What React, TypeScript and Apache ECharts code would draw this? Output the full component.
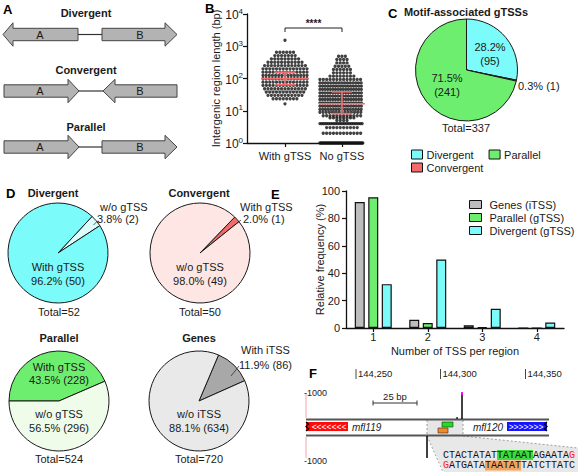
import { useEffect, useRef } from 'react';
import * as echarts from 'echarts';

const SANS = '"Liberation Sans", Arial, Helvetica, sans-serif';
const MONO = '"Liberation Mono", "DejaVu Sans Mono", monospace';

// ---------------- Panel B : intergenic region length (beeswarm rows: [value, count]) ----------------
const bCategories = ['With gTSS', 'No gTSS'];
const withGtssRows: [number, number][] = [
  [1535, 1], [652, 6], [514, 7], [406, 9], [320, 11], [252, 13], [199, 14], [157, 14],
  [124, 15], [98, 15], [77, 14], [61, 14], [48, 13], [38, 12], [30, 11], [23.5, 8], [16.4, 1],
];
const noGtssRows: [number, number][] = [
  [490, 3], [388, 4], [305, 4], [240, 5], [190, 6], [150, 6], [118, 8], [93, 14], [73, 17],
  [58, 18], [46, 18], [36, 18], [28.4, 18], [22.4, 18], [17.6, 18], [13.9, 18], [11, 17],
  [9, 15], [7, 12], [6, 8], [5, 4], [4, 26], [3, 10], [2, 12], [1, 40],
];
const bMedian = [98, 16.5];
const bQ1 = [64, 8.1];
const bQ3 = [157, 38.6];

// ---------------- Panel C : motif-associated gTSSs ----------------
const motifNames = ['Divergent', 'Convergent', 'Parallel'];
const motifCounts = [95, 1, 241];

// ---------------- Panel D : pies ----------------
const divNames = ['w/o gTSS', 'With gTSS'];
const divCounts = [2, 50];
const convNames = ['With gTSS', 'w/o gTSS'];
const convCounts = [1, 49];
const parNames = ['With gTSS', 'w/o gTSS'];
const parCounts = [228, 296];
const geneNames = ['With iTSS', 'w/o iTSS'];
const geneCounts = [86, 634];

// ---------------- Panel E : number of TSS per region ----------------
const tssCategories = ['1', '2', '3', '4'];
const eSeriesNames = ['Genes (iTSS)', 'Parallel (gTSS)', 'Divergent (gTSS)'];
const genesFreq = [92, 6, 2, 0];
const parallelFreq = [95.4, 3.6, 0.6, 0];
const divergentFreq = [32, 50, 14, 4];

// ---------------- Panel F : browser view ----------------
const fCoordLabels = ['144,250', '144,300', '144,350'];
const fScaleLabel = '25 bp';
const fDepthLabel = '-1000';
const fGeneLeft = 'mfl119';
const fGeneRight = 'mfl120';
const seqTop = 'CTACTATATTATAATAGAATAG';
const seqBottom = 'GATGATATAATATTATCTTATC';

// colours
const CYAN = '#7cfbfb';
const GREEN = '#6eee6e';
const RED = '#f26b6b';
const GRAY = '#bdbdbd';

// layout constants for panel B
const B_LEFT = 247, B_TOP = 14, B_W = 116, B_H = 129;
const B_XMIN = 0.333, B_XMAX = 2.37;
const B_PX_PER_UNIT = B_W / (B_XMAX - B_XMIN);
const B_MAXW = [44, 44];

function swarm(rows: [number, number][], center: number, maxW: number) {
  const pts: number[][] = [];
  rows.forEach(([v, n]) => {
    let step = 3.4;
    if (n > 1 && (n - 1) * step > maxW) step = maxW / (n - 1);
    for (let i = 0; i < n; i++) pts.push([center + ((i - (n - 1) / 2) * step) / B_PX_PER_UNIT, v]);
  });
  return pts;
}

const pct = (c: number, total: number) => ((c / total) * 100).toFixed(1);
const sum = (a: number[]) => a.reduce((s, v) => s + v, 0);

function txt(text: string, x: number, y: number, o: any = {}) {
  return {
    type: 'text', silent: true, z: 100,
    style: {
      text, x, y,
      fill: o.fill || '#1a1a1a',
      fontSize: o.size || 11,
      fontFamily: o.family || SANS,
      fontWeight: o.weight || 'normal',
      fontStyle: o.italic ? 'italic' : 'normal',
      align: o.align || 'center', textAlign: o.align || 'center',
      verticalAlign: 'middle', textVerticalAlign: 'middle',
      rich: o.rich,
    },
  };
}
const line = (x1: number, y1: number, x2: number, y2: number, stroke = '#222', lineWidth = 1, lineDash?: number[]) => ({
  type: 'line', silent: true, z: 90, shape: { x1, y1, x2, y2 }, style: { stroke, lineWidth, lineDash },
});
const rect = (x: number, y: number, width: number, height: number, fill: string, stroke?: string, lineWidth = 0.8) => ({
  type: 'rect', silent: true, z: 80, shape: { x, y, width, height }, style: { fill, stroke, lineWidth },
});
const poly = (points: number[][], fill: string, stroke?: string, lineWidth = 1, z = 80) => ({
  type: 'polygon', silent: true, z, shape: { points }, style: { fill, stroke, lineWidth },
});

function arrowRight(x0: number, xHead: number, xTip: number, cy: number) {
  return [[x0, cy - 6.2], [xHead, cy - 6.2], [xHead, cy - 11.7], [xTip, cy], [xHead, cy + 11.7], [xHead, cy + 6.2], [x0, cy + 6.2]];
}
function arrowLeft(xTip: number, xHead: number, x1: number, cy: number) {
  return [[xTip, cy], [xHead, cy - 11.7], [xHead, cy - 6.2], [x1, cy - 6.2], [x1, cy + 6.2], [xHead, cy + 6.2], [xHead, cy + 11.7]];
}

function pieSeries(names: string[], counts: number[], colors: string[], cx: number, cy: number, r: number, startAngle: number) {
  return {
    type: 'pie', center: [cx, cy], radius: r, startAngle, clockwise: true, silent: true,
    label: { show: false }, labelLine: { show: false }, emphasis: { disabled: true },
    itemStyle: { borderColor: '#1a1a1a', borderWidth: 1 },
    data: names.map((n, i) => ({ name: n, value: counts[i], itemStyle: { color: colors[i] } })),
  };
}

function buildOption() {
  const graphics: any[] = [];
  // panel letters
  [['A', 3, 9], ['B', 205, 8], ['C', 388, 13], ['D', 6, 193], ['E', 271, 194], ['F', 309, 373]].forEach(([t, x, y]) =>
    graphics.push(txt(t as string, x as number, y as number, { size: 13, weight: 'bold', align: 'left', fill: '#000' })));

  // ---- Panel A ----
  const AF = '#b3b3b3', AS = '#444';
  graphics.push(txt('Divergent', 86, 13, { weight: 'bold' }));
  graphics.push(poly(arrowLeft(3, 13, 78, 34.5), AF, AS));
  graphics.push(line(78, 34.5, 102, 34.5, '#333', 1.2));
  graphics.push(poly(arrowRight(102, 165, 177, 34.5), AF, AS));
  graphics.push(txt('Convergent', 86, 70, { weight: 'bold' }));
  graphics.push(poly(arrowRight(4, 68, 79, 91), AF, AS));
  graphics.push(line(79, 91, 103, 91, '#333', 1.2));
  graphics.push(poly(arrowLeft(103, 115, 177, 91), AF, AS));
  graphics.push(txt('Parallel', 86, 127, { weight: 'bold' }));
  graphics.push(poly(arrowRight(4, 68, 79, 147), AF, AS));
  graphics.push(line(79, 147, 102, 147, '#333', 1.2));
  graphics.push(poly(arrowRight(102, 165, 177, 147), AF, AS));
  [34.5, 91, 147].forEach((cy) => {
    graphics.push(txt('A', 40, cy, { size: 11 }));
    graphics.push(txt('B', 140, cy, { size: 11 }));
  });

  // ---- Panel B bracket ----
  graphics.push({ type: 'polyline', silent: true, z: 90, shape: { points: [[285, 32], [285, 28], [342, 28], [342, 32]] }, style: { stroke: '#222', lineWidth: 1, fill: null } });
  graphics.push(txt('****', 313.5, 23, { size: 10, weight: 'bold' }));

  // ---- Panel C labels ----
  const cTot = sum(motifCounts);
  graphics.push(txt('Motif-associated gTSSs', 466, 12, { weight: 'bold' }));
  graphics.push(txt(`${pct(motifCounts[0], cTot)}%`, 490, 47));
  graphics.push(txt(`(${motifCounts[0]})`, 490, 61));
  graphics.push(txt(`${pct(motifCounts[2], cTot)}%`, 447, 78));
  graphics.push(txt(`(${motifCounts[2]})`, 447, 92));
  graphics.push(txt(`${pct(motifCounts[1], cTot)}% (${motifCounts[1]})`, 518, 86, { align: 'left' }));
  graphics.push(txt(`Total=${cTot}`, 466, 128));

  // ---- Panel D labels ----
  const dT = sum(divCounts), cvT = sum(convCounts), pT = sum(parCounts), gT = sum(geneCounts);
  graphics.push(txt('Divergent', 53, 193, { weight: 'bold' }));
  graphics.push(txt('Convergent', 199, 193, { weight: 'bold' }));
  graphics.push(txt('Parallel', 59, 338, { weight: 'bold' }));
  graphics.push(txt('Genes', 199, 338, { weight: 'bold' }));
  graphics.push(txt(divNames[1], 58, 267));
  graphics.push(txt(`${pct(divCounts[1], dT)}% (${divCounts[1]})`, 58, 281));
  graphics.push(txt(divNames[0], 100, 207, { align: 'left' }));
  graphics.push(txt(`${pct(divCounts[0], dT)}% (${divCounts[0]})`, 97, 219, { align: 'left' }));
  graphics.push(line(93.5, 225, 97.5, 221, '#333', 0.8));
  graphics.push(txt(`Total=${dT}`, 59, 312));
  graphics.push(txt(convNames[1], 200, 267));
  graphics.push(txt(`${pct(convCounts[1], cvT)}% (${convCounts[1]})`, 200, 281));
  graphics.push(txt(convNames[0], 240, 207, { align: 'left' }));
  graphics.push(txt(`${pct(convCounts[0], cvT)}% (${convCounts[0]})`, 243, 219, { align: 'left' }));
  graphics.push(line(236, 224, 241, 220, '#333', 0.8));
  graphics.push(txt(`Total=${cvT}`, 200, 312));
  graphics.push(txt(parNames[0], 59, 367));
  graphics.push(txt(`${pct(parCounts[0], pT)}% (${parCounts[0]})`, 59, 380));
  graphics.push(txt(parNames[1], 59, 414));
  graphics.push(txt(`${pct(parCounts[1], pT)}% (${parCounts[1]})`, 59, 428));
  graphics.push(txt(`Total=${pT}`, 59, 459));
  graphics.push(txt(geneNames[1], 199, 414));
  graphics.push(txt(`${pct(geneCounts[1], gT)}% (${geneCounts[1]})`, 199, 428));
  graphics.push(txt(geneNames[0], 241, 350, { align: 'left' }));
  graphics.push(txt(`${pct(geneCounts[0], gT)}% (${geneCounts[0]})`, 239, 365, { align: 'left' }));
  graphics.push(line(231, 376, 239, 366, '#333', 0.8));
  graphics.push(txt(`Total=${gT}`, 199, 459));

  // ---- Panel F ----
  const fx = [356, 440.5, 525.5];
  fCoordLabels.forEach((l, i) => {
    graphics.push(line(fx[i], 369, fx[i], 379, '#333', 0.9));
    graphics.push(txt(l, fx[i] + 2, 373, { size: 9.5, align: 'left' }));
  });
  graphics.push(line(306, 393, 306, 418, '#f4a3ad', 1));
  graphics.push(line(306, 437, 306, 458, '#f4a3ad', 1));
  graphics.push(txt(fDepthLabel, 304, 393, { size: 9, align: 'left' }));
  graphics.push(txt(fDepthLabel, 304, 461, { size: 9, align: 'left' }));
  graphics.push(line(373, 403, 417, 403, '#333', 1));
  graphics.push(line(373, 400.5, 373, 405.5, '#333', 1));
  graphics.push(line(417, 400.5, 417, 405.5, '#333', 1));
  graphics.push(txt(fScaleLabel, 395, 396, { size: 9.5 }));
  // expanded-region shading
  graphics.push(poly([[427, 436], [463, 436], [578, 448], [578, 472], [444, 472]], '#e8e8e8', undefined, 0, 60));
  graphics.push(line(427, 436, 443, 472, '#888', 0.8, [2, 2]));
  graphics.push(line(463, 436, 578, 448, '#888', 0.8, [2, 2]));
  graphics.push(rect(427, 420, 36, 15, '#e6e6e6'));
  graphics.push(line(427, 420, 427, 435, '#888', 0.8, [2, 2]));
  graphics.push(line(463, 420, 463, 435, '#888', 0.8, [2, 2]));
  // track lines
  graphics.push(line(306, 419.5, 549, 419.5, '#555', 2));
  graphics.push(line(306, 435.5, 549, 435.5, '#555', 2));
  // genes
  graphics.push(rect(306, 422, 42, 9, '#ff0a0a'));
  graphics.push({ type: 'polyline', silent: true, z: 95, shape: { points: [[306, 422], [308.5, 424], [306, 426.5], [308.5, 429], [306, 431]] }, style: { stroke: '#000', lineWidth: 1.3, fill: null } });
  graphics.push(txt('<<<<<<<', 329, 426.5, { size: 8.5, fill: '#fff' }));
  graphics.push(txt(fGeneLeft, 352, 427, { size: 10, italic: true, align: 'left' }));
  graphics.push(rect(507, 422, 40, 9, '#1414ff'));
  graphics.push({ type: 'polyline', silent: true, z: 95, shape: { points: [[547, 422], [544.5, 424], [547, 426.5], [544.5, 429], [547, 431]] }, style: { stroke: '#000', lineWidth: 1.3, fill: null } });
  graphics.push(txt('>>>>>>>', 526, 426.5, { size: 8.5, fill: '#fff' }));
  graphics.push(txt(fGeneRight, 503, 427, { size: 10, italic: true, align: 'right' }));
  // motif boxes
  graphics.push(rect(442, 422, 11, 5, '#22dd22', '#2a2a2a', 0.6));
  graphics.push(rect(438, 428, 10, 5, '#f28a2a', '#2a2a2a', 0.6));
  // TSS signals
  graphics.push(line(462, 393, 462, 419, '#111', 1.6));
  graphics.push(line(462, 392, 462, 395, '#ff00ff', 1.8));
  graphics.push({ type: 'circle', silent: true, z: 90, shape: { cx: 457, cy: 418, r: 0.9 }, style: { fill: '#111' } });
  graphics.push(line(427, 436, 427, 458, '#111', 1.6));
  // sequences
  const seqRich = {
    n: { fontFamily: MONO, fontSize: 10, fill: '#111' },
    r: { fontFamily: MONO, fontSize: 10, fill: '#ff2020' },
    g: { fontFamily: MONO, fontSize: 10, fill: '#111', backgroundColor: '#3edb3e' },
    o: { fontFamily: MONO, fontSize: 10, fill: '#111', backgroundColor: '#f5a45e' },
  };
  graphics.push(txt(`{n|${seqTop.slice(0, 9)}}{g|${seqTop.slice(9, 15)}}{n|${seqTop.slice(15, 21)}}{r|${seqTop.slice(21)}}`, 443, 455, { align: 'left', family: MONO, size: 10, rich: seqRich }));
  graphics.push(txt(`{r|${seqBottom.slice(0, 1)}}{n|${seqBottom.slice(1, 7)}}{o|${seqBottom.slice(7, 13)}}{n|${seqBottom.slice(13)}}`, 443, 465.5, { align: 'left', family: MONO, size: 10, rich: seqRich }));

  const axisLine = { show: true, lineStyle: { color: '#111', width: 1.3 } };
  const axisTick = { show: true, length: 4, lineStyle: { color: '#111', width: 1.2 } };
  const labelStyle = { color: '#1a1a1a', fontSize: 11, fontFamily: SANS };

  return {
    animation: false,
    backgroundColor: '#fff',
    textStyle: { fontFamily: SANS },
    grid: [
      { left: B_LEFT, top: B_TOP, width: B_W, height: B_H, containLabel: false, outerBoundsMode: 'none' },
      { left: 346, top: 191, width: 218, height: 137, containLabel: false, outerBoundsMode: 'none' },
    ],
    legend: [
      {
        data: ['Divergent', 'Parallel'], left: 406, top: 144, icon: 'rect', itemWidth: 11, itemHeight: 9, itemGap: 15,
        selectedMode: false, textStyle: { ...labelStyle, padding: [0, 0, 0, -1] }, itemStyle: { borderColor: '#111', borderWidth: 1 },
      },
      {
        data: ['Convergent'], left: 406, top: 157, icon: 'rect', itemWidth: 11, itemHeight: 9,
        selectedMode: false, textStyle: { ...labelStyle, padding: [0, 0, 0, -1] }, itemStyle: { borderColor: '#111', borderWidth: 1 },
      },
      {
        data: eSeriesNames, orient: 'vertical', left: 464, top: 194, icon: 'rect', itemWidth: 12, itemHeight: 8, itemGap: 2,
        selectedMode: false, textStyle: { ...labelStyle, lineHeight: 9, padding: [0, 0, 0, 3] }, itemStyle: { borderColor: '#111', borderWidth: 1 },
      },
    ],
    xAxis: [
      {
        type: 'value', gridIndex: 0, min: B_XMIN, max: B_XMAX,
        axisLine, axisTick: { ...axisTick, customValues: [1, 2] },
        axisLabel: { ...labelStyle, customValues: [1, 2], margin: 7, formatter: (v: number) => bCategories[Math.round(v) - 1] || '' },
        splitLine: { show: false },
      },
      {
        type: 'category', gridIndex: 1, data: tssCategories,
        axisLine, axisTick: { ...axisTick, alignWithLabel: true }, axisLabel: { ...labelStyle, margin: 3 },
        name: 'Number of TSS per region', nameLocation: 'middle', nameGap: 17, nameMoveOverlap: false, nameTextStyle: labelStyle,
        splitLine: { show: false },
      },
    ],
    yAxis: [
      {
        type: 'log', gridIndex: 0, min: 1, max: 10000, logBase: 10,
        axisLine, axisTick, splitLine: { show: false },
        axisLabel: {
          margin: 4,
          formatter: (v: number) => `{b|10}{s|${Math.round(Math.log10(v))}}`,
          rich: {
            b: { fontSize: 12, fontFamily: SANS, color: '#1a1a1a', lineHeight: 14, verticalAlign: 'bottom' },
            s: { fontSize: 8, fontFamily: SANS, color: '#1a1a1a', lineHeight: 10, verticalAlign: 'top', padding: [0, 0, 8, 0] },
          },
        },
        name: 'Intergenic region length (bp)', nameLocation: 'middle', nameGap: 26, nameMoveOverlap: false, nameTextStyle: labelStyle,
      },
      {
        type: 'value', gridIndex: 1, min: 0, max: 100, interval: 20,
        axisLine, axisTick, splitLine: { show: false }, axisLabel: { ...labelStyle, margin: 6 },
        name: 'Relative frequency (%)', nameLocation: 'middle', nameGap: 21, nameMoveOverlap: false, nameTextStyle: labelStyle,
      },
    ],
    series: [
      {
        type: 'scatter', name: bCategories[0], xAxisIndex: 0, yAxisIndex: 0, silent: true, z: 2,
        symbolSize: 3.3, itemStyle: { color: '#111' }, data: swarm(withGtssRows, 1, B_MAXW[0]),
      },
      {
        type: 'scatter', name: bCategories[1], xAxisIndex: 0, yAxisIndex: 0, silent: true, z: 2,
        symbolSize: 3.3, itemStyle: { color: '#111' }, data: swarm(noGtssRows, 2, B_MAXW[1]),
      },
      {
        type: 'custom', xAxisIndex: 0, yAxisIndex: 0, silent: true, z: 5,
        data: bCategories.map((_, i) => [i + 1, bMedian[i], bQ1[i], bQ3[i], i]),
        encode: { x: 0, y: [1, 2, 3] },
        renderItem: (_p: any, api: any) => {
          const x = api.value(0), i = api.value(4);
          const m = api.coord([x, api.value(1)]);
          const lo = api.coord([x, api.value(2)]);
          const hi = api.coord([x, api.value(3)]);
          const wide = B_MAXW[i] / 2 + 1, nar = 10;
          const st = { stroke: '#f26d6d', lineWidth: 1.6 };
          return {
            type: 'group', children: [
              { type: 'line', shape: { x1: m[0] - wide, y1: m[1], x2: m[0] + wide, y2: m[1] }, style: st },
              { type: 'line', shape: { x1: lo[0] - nar, y1: lo[1], x2: lo[0] + nar, y2: lo[1] }, style: st },
              { type: 'line', shape: { x1: hi[0] - nar, y1: hi[1], x2: hi[0] + nar, y2: hi[1] }, style: st },
              { type: 'line', shape: { x1: m[0], y1: hi[1], x2: m[0], y2: lo[1] }, style: st },
            ],
          };
        },
      },
      pieSeries(motifNames, motifCounts, [CYAN, RED, GREEN], 466.5, 70, 51, 90),
      pieSeries(divNames, divCounts, ['#ddfdfd', CYAN], 58, 253, 50, 47),
      pieSeries(convNames, convCounts, [RED, '#fde6e3'], 200, 253, 50, 46),
      pieSeries(parNames, parCounts, [GREEN, '#effcea'], 59, 401, 50, 180),
      pieSeries(geneNames, geneCounts, ['#a8a8a8', '#e9e9e9'], 199, 401, 50, 67),
      ...[genesFreq, parallelFreq, divergentFreq].map((d, i) => ({
        type: 'bar', name: eSeriesNames[i], xAxisIndex: 1, yAxisIndex: 1, silent: true,
        barWidth: 10, barGap: '35%', data: d,
        itemStyle: { color: [GRAY, GREEN, CYAN][i], borderColor: '#111', borderWidth: 1.2 },
      })),
    ],
    graphic: { elements: graphics },
  };
}

export default function App() {
  const ref = useRef<HTMLDivElement>(null);
  useEffect(() => {
    if (!ref.current) return;
    const chart = echarts.init(ref.current, undefined, { renderer: 'svg' });
    chart.setOption(buildOption() as any);
    return () => chart.dispose();
  }, []);
  return <div ref={ref} style={{ position: 'absolute', left: 0, top: 0, width: 578, height: 472, background: '#fff' }} />;
}
